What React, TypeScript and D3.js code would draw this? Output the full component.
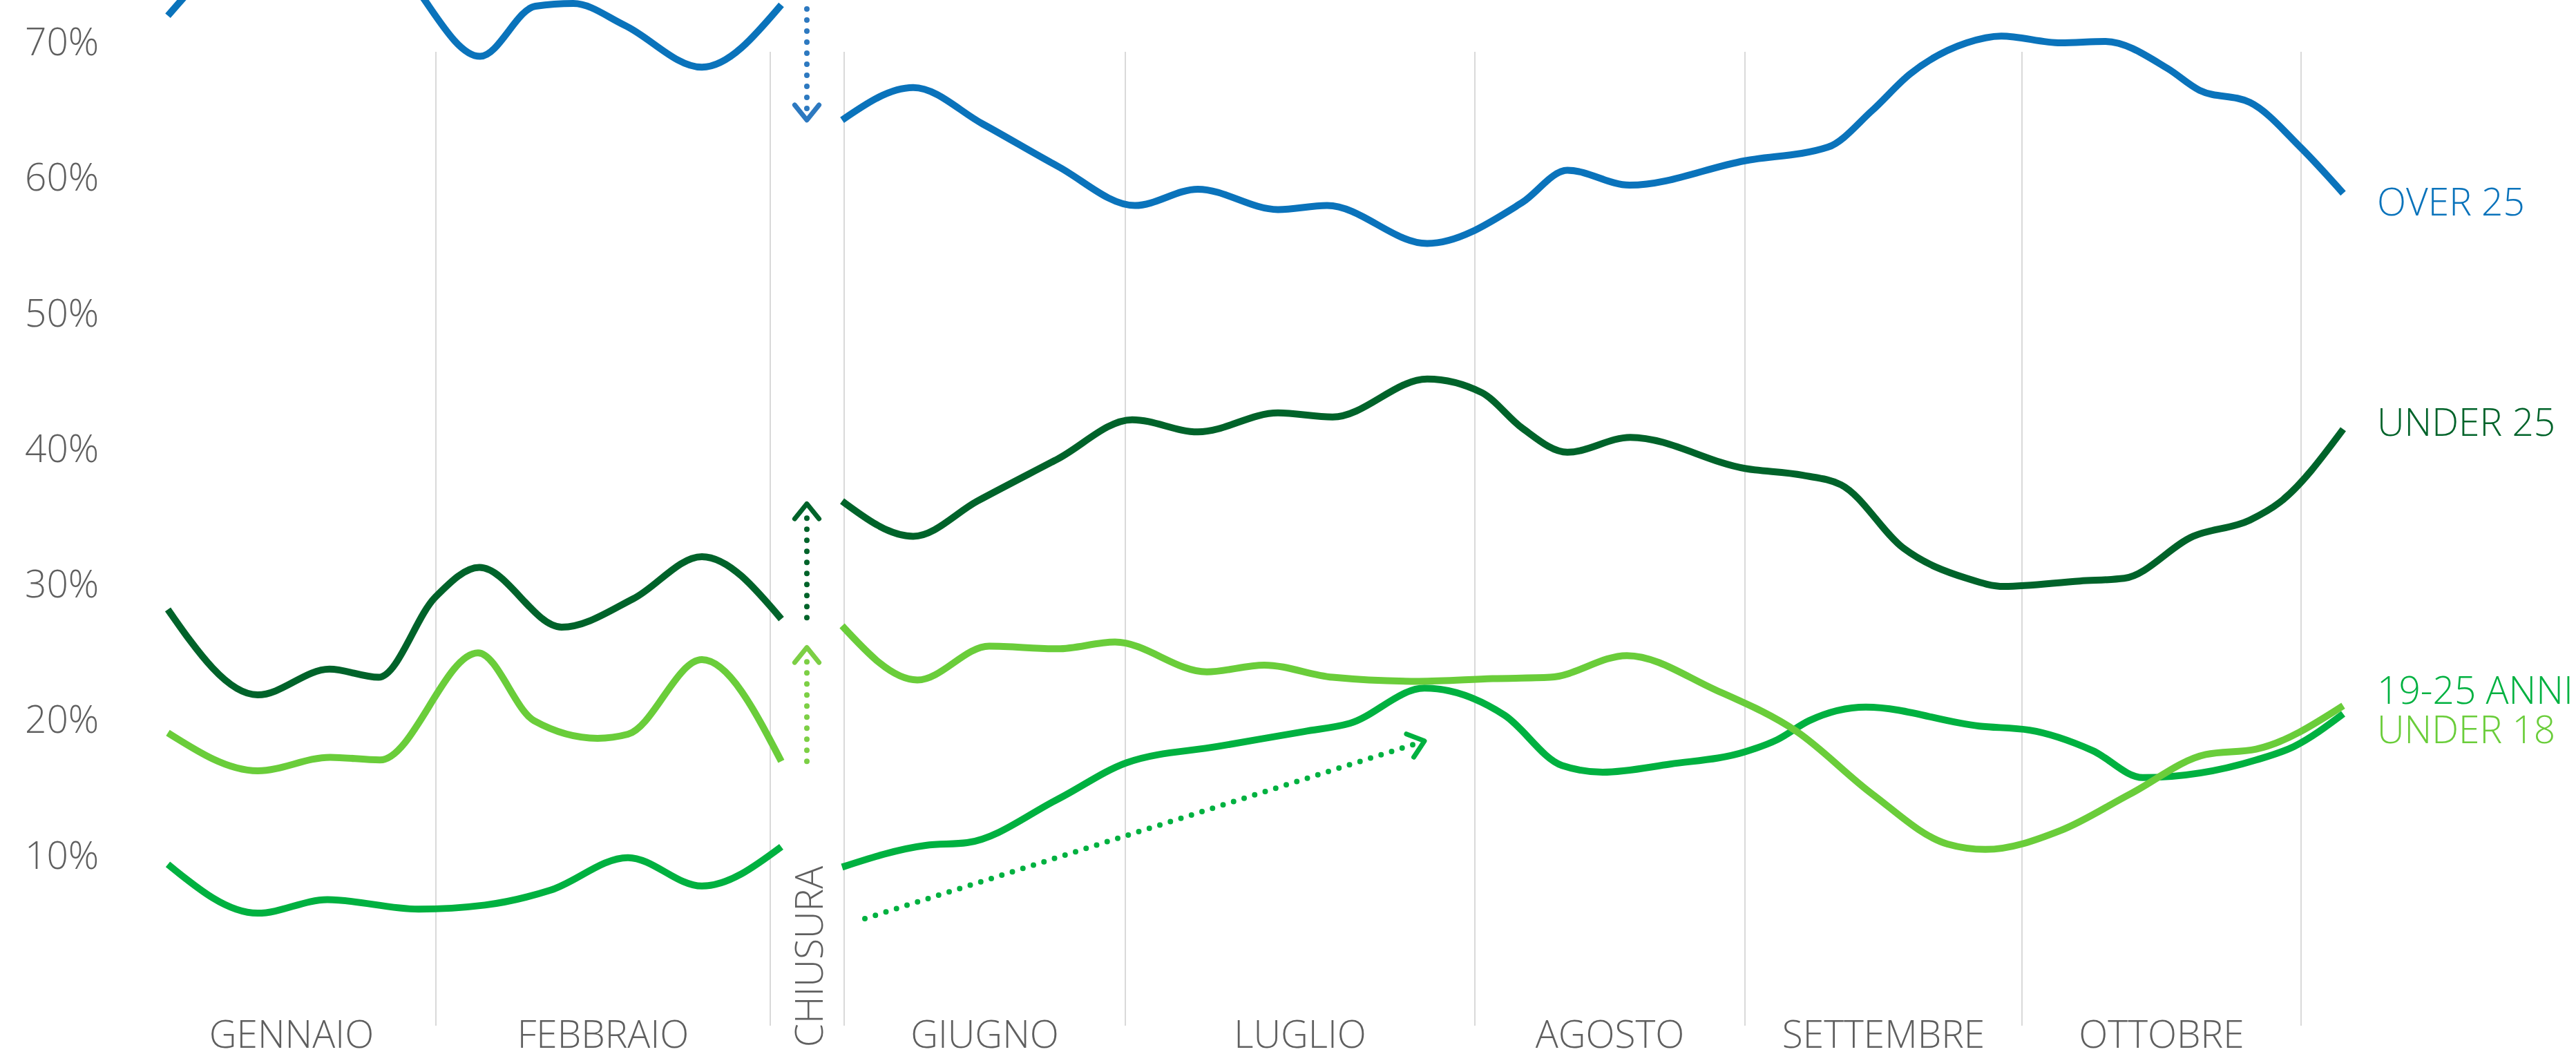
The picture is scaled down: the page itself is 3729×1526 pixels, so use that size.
import React from "react";
import * as d3 from "d3";

const W = 3729;
const H = 1526;

// y ticks (percent)
const yTicks = [10, 20, 30, 40, 50, 60, 70];

// x unit: approximate weeks since early January (closure period compressed)
const months = [
  { name: "GENNAIO", start: -0.3, end: 3.88 },
  { name: "FEBBRAIO", start: 3.88, end: 8.72 },
  { name: "CHIUSURA", start: 8.72, end: 9.79, vertical: true },
  { name: "GIUGNO", start: 9.79, end: 13.86 },
  { name: "LUGLIO", start: 13.86, end: 18.92 },
  { name: "AGOSTO", start: 18.92, end: 22.83 },
  { name: "SETTEMBRE", start: 22.83, end: 26.84 },
  { name: "OTTOBRE", start: 26.84, end: 30.88 },
];

// OVER 25
const over25Before: [number, number][] = [
  [0.0, 71.9], [1.11, 77.5], [2.22, 79.5], [3.33, 75.5], [4.52, 68.9], [5.32, 72.6],
  [5.87, 72.8], [6.61, 71.2], [7.73, 68.1], [8.88, 72.7],
];
const over25After: [number, number][] = [
  [9.76, 64.2], [10.79, 66.6], [11.8, 63.9], [12.88, 60.8], [14.0, 57.9], [14.91, 59.1],
  [16.07, 57.6], [16.78, 57.9], [18.23, 55.1], [19.6, 58.1], [20.26, 60.5], [21.16, 59.4],
  [22.83, 61.2], [24.03, 62.2], [24.67, 64.9], [25.22, 67.6], [26.04, 69.9], [26.54, 70.4],
  [27.4, 69.9], [28.04, 70.0], [28.95, 68.0], [29.41, 66.4], [30.14, 65.5], [30.87, 62.2],
  [31.49, 58.8],
];

// UNDER 25
const under25Before: [number, number][] = [
  [0.0, 28.1], [1.3, 21.8], [2.34, 23.7], [3.05, 23.1], [3.87, 29.0], [4.51, 31.2],
  [5.7, 26.8], [6.74, 28.9], [7.73, 32.0], [8.88, 27.4],
];
const under25After: [number, number][] = [
  [9.76, 36.1], [10.79, 33.5], [11.72, 36.1], [12.88, 39.2], [13.96, 42.1], [14.91, 41.2],
  [16.07, 42.6], [16.86, 42.3], [18.23, 45.1], [19.02, 44.1], [19.6, 41.5], [20.26, 39.7],
  [21.17, 40.8], [22.83, 38.5], [23.67, 38.0], [24.22, 37.3], [25.13, 32.6], [26.04, 30.4],
  [26.58, 29.8], [27.68, 30.2], [28.32, 30.4], [29.32, 33.5], [30.14, 34.7], [30.57, 36.0],
  [31.49, 41.4],
];

// 19-25 ANNI
const anniBefore: [number, number][] = [
  [0.0, 9.3], [1.3, 5.7], [2.31, 6.7], [3.63, 6.0], [4.59, 6.3], [5.54, 7.4],
  [6.66, 9.8], [7.73, 7.7], [8.88, 10.6],
];
const anniAfter: [number, number][] = [
  [9.76, 9.1], [10.97, 10.7], [11.57, 10.9], [12.88, 14.1], [13.88, 16.8], [15.2, 18.0],
  [16.45, 19.1], [17.11, 19.7], [18.19, 22.3], [19.35, 20.3], [20.18, 16.6], [20.77, 16.1],
  [21.75, 16.7], [22.83, 17.6], [23.3, 18.5], [23.76, 19.9], [24.58, 20.9], [26.22, 19.5],
  [26.95, 19.2], [27.86, 17.7], [28.59, 15.7], [30.23, 17.0], [30.78, 18.0], [31.49, 20.4],
];

// UNDER 18
const under18Before: [number, number][] = [
  [0.0, 19.0], [1.3, 16.2], [2.35, 17.2], [3.07, 17.0], [4.49, 24.9], [5.3, 19.9],
  [6.22, 18.6], [6.66, 18.9], [7.73, 24.4], [8.88, 16.9],
];
const under18After: [number, number][] = [
  [9.76, 26.9], [10.85, 22.9], [11.89, 25.4], [12.88, 25.2], [13.71, 25.7], [15.04, 23.5],
  [15.87, 24.0], [16.86, 23.1], [18.11, 22.8], [19.18, 23.0], [20.01, 23.1], [21.12, 24.7],
  [22.39, 22.2], [23.58, 19.1], [24.67, 14.5], [25.76, 10.8], [26.31, 10.4], [27.4, 11.8],
  [28.41, 14.5], [29.5, 17.4], [30.23, 17.8], [31.49, 21.0],
];

// closure jump arrows (vertical) and summer trend arrow
const jumpArrows = [
  { key: "over25", t: 9.25, from: 72.4, to: 64.2, color: "#2d79c0" },
  { key: "under25", t: 9.25, from: 27.5, to: 35.9, color: "#00632a" },
  { key: "under18", t: 9.25, from: 16.9, to: 25.3, color: "#7ccf45" },
];
const trendArrow = { t0: 10.09, v0: 5.3, t1: 18.19, v1: 18.4, color: "#00b140" };

const series = [
  { key: "over25", label: "OVER 25", color: "#0a73bb", parts: [over25Before, over25After], labelDy: 32 },
  { key: "under25", label: "UNDER 25", color: "#00632a", parts: [under25Before, under25After], labelDy: 10 },
  { key: "anni", label: "19-25 ANNI", color: "#00b140", parts: [anniBefore, anniAfter], labelDy: -15 },
  { key: "under18", label: "UNDER 18", color: "#6acd3a", parts: [under18Before, under18After], labelDy: 54 },
];

const FONT = "'Open Sans', 'Noto Sans', sans-serif";
const GRAY = "#5f5f5f";

export default function App() {
  const x = d3.scaleLinear().domain([0, 31.49]).range([243, 3392]);
  const y = d3.scaleLinear().domain([0, 70]).range([1434, 60]);
  const line = d3
    .line<[number, number]>()
    .x((d) => x(d[0]))
    .y((d) => y(d[1]))
    .curve(d3.curveMonotoneX);

  const gridTop = 75;
  const gridBottom = 1485;

  const arrowHead = (x0: number, y0: number, x1: number, y1: number) => {
    const a = Math.atan2(y1 - y0, x1 - x0) + Math.PI;
    const L = 28;
    const s = 0.68;
    const p1 = [x1 + L * Math.cos(a - s), y1 + L * Math.sin(a - s)];
    const p2 = [x1 + L * Math.cos(a + s), y1 + L * Math.sin(a + s)];
    return `M${p1[0]},${p1[1]}L${x1},${y1}L${p2[0]},${p2[1]}`;
  };

  const dotted = (x0: number, y0: number, x1: number, y1: number, color: string, key: string) => {
    const len = Math.hypot(x1 - x0, y1 - y0);
    const ux = (x1 - x0) / len;
    const uy = (y1 - y0) / len;
    const ex = x1 - ux * 12;
    const ey = y1 - uy * 12;
    return (
      <g key={key}>
        <line x1={x0} y1={y0} x2={ex} y2={ey} stroke={color} strokeWidth={8}
          strokeDasharray="0 16" strokeLinecap="round" />
        <path d={arrowHead(x0, y0, x1, y1)} fill="none" stroke={color} strokeWidth={7}
          strokeLinecap="round" strokeLinejoin="round" />
      </g>
    );
  };

  return (
    <div>
      <style>{"body{margin:0;background:#fff}"}</style>
      <svg width={W} height={H} style={{ display: "block", background: "#fff" }}>
        {/* month separators */}
        {months.map((m) => (
          <line key={"g" + m.name} x1={x(m.end)} x2={x(m.end)} y1={gridTop} y2={gridBottom}
            stroke="#d9d9d9" strokeWidth={2} />
        ))}
        {/* y tick labels */}
        {yTicks.map((v) => (
          <text key={"y" + v} x={36} y={y(v) + 20} fontFamily={FONT} fontWeight={300}
            fontSize={55} fill={GRAY}>{v}%</text>
        ))}
        {/* month labels */}
        {months.map((m) =>
          m.vertical ? (
            <text key={"m" + m.name} transform={`translate(${(x(m.start) + x(m.end)) / 2 + 22},1385) rotate(-90)`}
              textAnchor="middle" fontFamily={FONT} fontWeight={300} fontSize={55} fill={GRAY}>
              {m.name}
            </text>
          ) : (
            <text key={"m" + m.name} x={(x(m.start) + x(m.end)) / 2} y={1517} textAnchor="middle"
              fontFamily={FONT} fontWeight={300} fontSize={55} fill={GRAY}>{m.name}</text>
          )
        )}
        {/* series lines */}
        {series.map((s) => (
          <g key={s.key}>
            {s.parts.map((p, i) => (
              <path key={i} d={line(p) || ""} fill="none" stroke={s.color} strokeWidth={10}
                strokeLinejoin="round" />
            ))}
          </g>
        ))}
        {/* end labels */}
        {series.map((s) => {
          const last = s.parts[1][s.parts[1].length - 1];
          return (
            <text key={"l" + s.key} x={x(last[0]) + 49} y={y(last[1]) + s.labelDy}
              fontFamily={FONT} fontWeight={300} fontSize={55} fill={s.color}>{s.label}</text>
          );
        })}
        {/* arrows */}
        {jumpArrows.map((a) => dotted(x(a.t), y(a.from), x(a.t), y(a.to), a.color, "a" + a.key))}
        {dotted(x(trendArrow.t0), y(trendArrow.v0), x(trendArrow.t1), y(trendArrow.v1), trendArrow.color, "trend")}
      </svg>
    </div>
  );
}
